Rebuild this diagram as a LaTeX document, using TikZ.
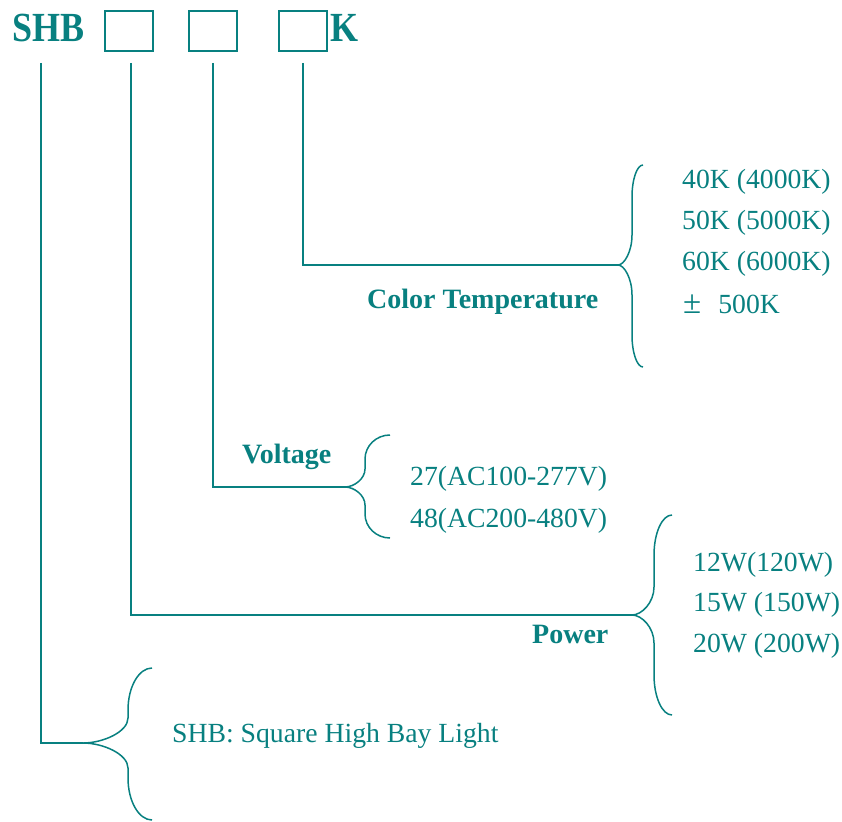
\documentclass[tikz,border=0pt]{standalone}
\usepackage{fontspec}
\setmainfont{Liberation Serif}
\definecolor{teal}{RGB}{8,128,128}
% xt xm xtip yt ymid yb a b
\newcommand{\drawbrace}[8]{%
 \draw[line] (#1,#4) .. controls ({#2+0.45*(#1-#2)},#4) and (#2,{#4+0.45*#7}) .. (#2,{#4+#7})
  -- (#2,{#5-#8}) .. controls (#2,{#5-0.45*#8}) and ({#3+0.45*(#2-#3)},#5) .. (#3,#5)
  .. controls ({#3+0.45*(#2-#3)},#5) and (#2,{#5+0.45*#8}) .. (#2,{#5+#8})
  -- (#2,{#6-#7}) .. controls (#2,{#6-0.45*#7}) and ({#2+0.45*(#1-#2)},#6) .. (#1,#6);}
\begin{document}
\begin{tikzpicture}[x=1pt,y=-1pt,
  line/.style={draw=teal,line width=1.5pt},
  boxnode/.style={draw=teal,line width=1.6pt,minimum width=48pt,minimum height=40pt,inner sep=0pt},
  title/.style={text=teal,font=\fontsize{36}{36}\selectfont\bfseries,anchor=base west,inner sep=0pt,yscale=1.15},
  label/.style={text=teal,font=\fontsize{28}{28}\selectfont\bfseries,anchor=base west,inner sep=0pt},
  item/.style={text=teal,font=\fontsize{27.7}{27.7}\selectfont,anchor=base west,inner sep=0pt}]
\useasboundingbox (0,0) rectangle (842,821);
% header
\node[title] (shb) at (12,42) {SHB};
\node[boxnode] (b1) at (129,31) {};
\node[boxnode] (b2) at (213,31) {};
\node[boxnode] (b3) at (303,31) {};
\node[title] (k) at (330,42) {K};
% line tops
\coordinate (t1) at (41,63);
\coordinate (t2) at (131,63);
\coordinate (t3) at (213,63);
\coordinate (t4) at (303,63);
% brace tips
\coordinate (p4) at (618,265);
\coordinate (p3) at (345,487);
\coordinate (p2) at (632,615);
\coordinate (p1) at (83,743);
% connectors
\draw[line] (t4) |- (p4);
\draw[line] (t3) |- (p3);
\draw[line] (t2) |- (p2);
\draw[line] (t1) |- (p1);
% braces
\drawbrace{643}{632}{618}{165}{265}{367}{32}{30}
\drawbrace{390}{365}{345}{435}{487}{538}{24}{18}
\drawbrace{672}{654}{632}{515}{615}{715}{40}{28}
\drawbrace{152}{128}{83}{668}{743}{820}{42}{25}
% labels
\node[label] (ct) at (367,308) {Color Temperature};
\node[label] (vo) at (242,463) {Voltage};
\node[label] (po) at (532,643) {Power};
% items
\node[item] (c1) at (682,188) {40K (4000K)};
\node[item] (c2) at (682,229) {50K (5000K)};
\node[item] (c3) at (682,270) {60K (6000K)};
\node[item] (c4) at (683,313) {{\fontsize{33}{33}\selectfont ±}\hspace{17pt}500K};
\node[item] (v1) at (410,485) {27(AC100-277V)};
\node[item] (v2) at (410,527) {48(AC200-480V)};
\node[item] (w1) at (693,571) {12W(120W)};
\node[item] (w2) at (693,611) {15W (150W)};
\node[item] (w3) at (693,652) {20W (200W)};
\node[item] (s1) at (172,742) {SHB: Square High Bay Light};
\end{tikzpicture}
\end{document}
